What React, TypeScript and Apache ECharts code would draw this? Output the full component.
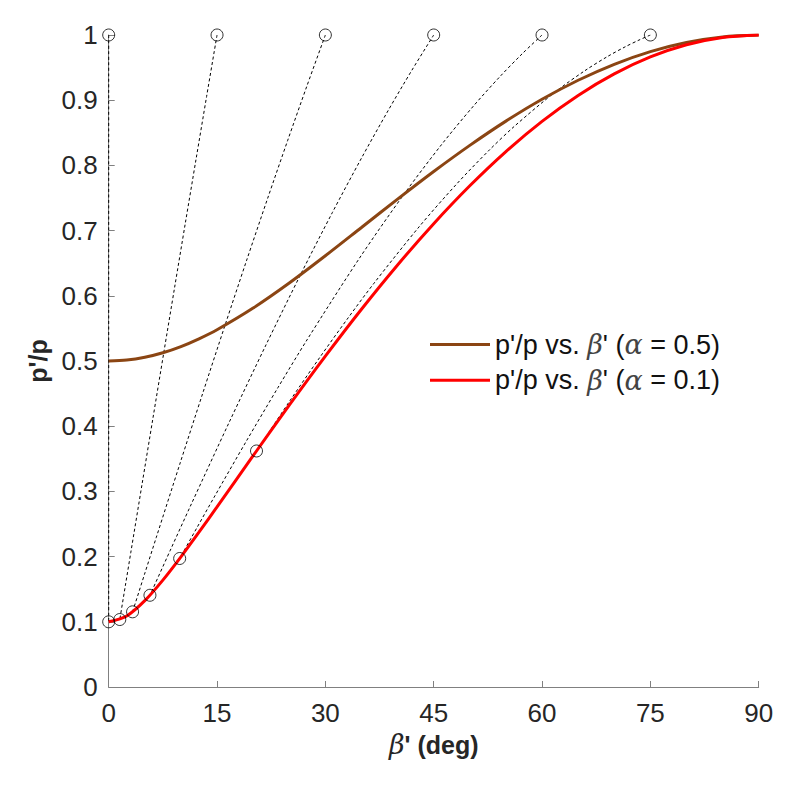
import React, { useEffect, useRef } from "react";
import * as echarts from "echarts";

// beta' (deg) sample points for the two curves
const betaDeg = [0, 2.5, 5, 7.5, 10, 12.5, 15, 20, 25, 30, 35, 40, 45, 50, 55, 60, 65, 70, 75, 80, 85, 90];
// p'/p for alpha = 0.5
const ratioAlpha05 = [0.5, 0.5014, 0.5057, 0.5126, 0.5221, 0.534, 0.5479, 0.5812, 0.6196, 0.6614, 0.7048, 0.7483, 0.7906, 0.8307, 0.8679, 0.9014, 0.9306, 0.9551, 0.9746, 0.9886, 0.9971, 1];
// p'/p for alpha = 0.1
const ratioAlpha01 = [0.1, 0.109, 0.1324, 0.1639, 0.1996, 0.2374, 0.2763, 0.3547, 0.4322, 0.5074, 0.5794, 0.6473, 0.7106, 0.7687, 0.8212, 0.8675, 0.9073, 0.9403, 0.9663, 0.985, 0.9962, 1];

// dashed trajectories [beta', p'/p], from the top circle down to the red curve
const path0 = [[0, 1], [0, 0.1]];
const path15 = [[15, 1], [13.558, 0.9058], [12.099, 0.8098], [10.623, 0.7123], [9.133, 0.6133], [7.631, 0.5131], [6.118, 0.4118], [4.596, 0.3096], [3.068, 0.2068], [2.302, 0.1552], [1.535, 0.1035]];
const path30 = [[30, 1], [27.457, 0.9222], [24.791, 0.8386], [22.006, 0.7494], [19.107, 0.6547], [16.102, 0.5547], [13.004, 0.45], [9.827, 0.3413], [6.587, 0.2294], [4.95, 0.1726], [3.304, 0.1153]];
const path45 = [[45, 1], [41.987, 0.9461], [38.66, 0.8835], [34.992, 0.811], [30.964, 0.7276], [26.565, 0.6325], [21.801, 0.5252], [16.699, 0.4064], [11.31, 0.2774], [8.531, 0.2098], [5.711, 0.1407]];
const path60 = [[60, 1], [57.318, 0.9719], [54.181, 0.9363], [50.484, 0.8908], [46.101, 0.8321], [40.893, 0.7559], [34.714, 0.6576], [27.457, 0.5324], [23.413, 0.4588], [19.107, 0.378], [14.564, 0.2904], [12.216, 0.2443], [9.827, 0.1971]];
const path75 = [[75, 1], [73.421, 0.9922], [71.482, 0.9817], [69.054, 0.9669], [65.935, 0.9453], [61.813, 0.9125], [56.183, 0.8601], [52.563, 0.822], [48.231, 0.7721], [43.015, 0.7063], [36.737, 0.6193], [33.149, 0.5661], [29.241, 0.5057], [25.009, 0.4377], [20.466, 0.362]];

// circle markers
const topCircles = [[0, 1], [15, 1], [30, 1], [45, 1], [60, 1], [75, 1]];
const bottomCircles = [[0, 0.1], [1.535, 0.1035], [3.304, 0.1153], [5.711, 0.1407], [9.827, 0.1971], [20.466, 0.362]];

const xTicks = [0, 15, 30, 45, 60, 75, 90];
const yTicks = [0, 0.1, 0.2, 0.3, 0.4, 0.5, 0.6, 0.7, 0.8, 0.9, 1];

const legendNames = ["p'/p vs. β' (α = 0.5)", "p'/p vs. β' (α = 0.1)"];

const FONT = "Liberation Sans, Arial, Helvetica, sans-serif";
const GREEK = "DejaVu Serif, serif";

export default function App() {
  const ref = useRef<HTMLDivElement>(null);
  useEffect(() => {
    if (!ref.current) return;
    const chart = echarts.init(ref.current, undefined, { renderer: "svg" });
    const dashed = (data: number[][], id: string) => ({
      id,
      type: "line",
      data,
      smooth: 0.3,
      showSymbol: false,
      silent: true,
      z: 2,
      lineStyle: { color: "#000", width: 1, type: [3, 2.5] },
    });
    chart.setOption({
      animation: false,
      backgroundColor: "#fff",
      textStyle: { fontFamily: FONT },
      grid: { left: 100.7, right: 33.3, top: 27, bottom: 97, containLabel: false },
      legend: {
        left: 417,
        top: 318,
        orient: "vertical",
        itemWidth: 60,
        itemHeight: 3,
        itemGap: 8.7,
        icon: "rect",
        data: legendNames,
        formatter: (name: string) =>
          name.indexOf("0.5") >= 0
            ? "p'/p vs. {i|β}' ({i|α} = 0.5)"
            : "p'/p vs. {i|β}' ({i|α} = 0.1)",
        textStyle: {
          fontSize: 27,
          lineHeight: 26,
          color: "#111",
          fontFamily: FONT,
          rich: {
            i: { fontSize: 27, lineHeight: 26, fontStyle: "italic", fontFamily: GREEK, color: "#444" },
          },
        },
      },
      xAxis: {
        type: "value",
        min: 0,
        max: 90,
        interval: 15,
        name: "{i|β}' (deg)",
        nameLocation: "middle",
        nameGap: 44,
        nameTextStyle: {
          fontSize: 25,
          fontWeight: "bold",
          color: "#262626",
          fontFamily: FONT,
          rich: { i: { fontSize: 27, fontStyle: "italic", fontFamily: GREEK, fontWeight: "normal", color: "#262626" } },
        },
        axisLine: { show: true, lineStyle: { color: "#808080", width: 1 } },
        axisTick: { show: true, inside: true, length: 6, lineStyle: { color: "#808080" } },
        axisLabel: { fontSize: 26, color: "#262626", margin: 13, fontFamily: FONT, formatter: (v: number) => (xTicks.includes(v) ? String(v) : "") },
        splitLine: { show: false },
      },
      yAxis: {
        type: "value",
        min: 0,
        max: 1,
        interval: 0.1,
        name: "p'/p",
        nameLocation: "middle",
        nameGap: 58,
        nameRotate: 90,
        nameTextStyle: { fontSize: 25, fontWeight: "bold", color: "#262626", fontFamily: FONT },
        axisLine: { show: true, lineStyle: { color: "#808080", width: 1 } },
        axisTick: { show: true, inside: true, length: 6, lineStyle: { color: "#808080" } },
        axisLabel: {
          fontSize: 26,
          color: "#262626",
          margin: 11,
          fontFamily: FONT,
          formatter: (v: number) => {
            const t = yTicks.find((y) => Math.abs(y - v) < 1e-9);
            return t === undefined ? "" : String(Math.round(t * 10) / 10);
          },
        },
        splitLine: { show: false },
      },
      series: [
        dashed(path0, "d0"),
        dashed(path15, "d15"),
        dashed(path30, "d30"),
        dashed(path45, "d45"),
        dashed(path60, "d60"),
        dashed(path75, "d75"),
        {
          name: legendNames[0],
          type: "line",
          data: betaDeg.map((b, i) => [b, ratioAlpha05[i]]),
          smooth: 0.3,
          showSymbol: false,
          z: 3,
          itemStyle: { color: "#8B4513" },
          lineStyle: { color: "#8B4513", width: 3 },
        },
        {
          name: legendNames[1],
          type: "line",
          data: betaDeg.map((b, i) => [b, ratioAlpha01[i]]),
          smooth: 0.3,
          showSymbol: false,
          z: 3,
          itemStyle: { color: "#ff0000" },
          lineStyle: { color: "#ff0000", width: 3 },
        },
        {
          type: "scatter",
          data: topCircles.concat(bottomCircles),
          symbol: "circle",
          symbolSize: 12,
          z: 5,
          silent: true,
          itemStyle: { color: "rgba(0,0,0,0)", borderColor: "#000", borderWidth: 1 },
        },
      ],
    });
    return () => chart.dispose();
  }, []);
  return <div ref={ref} style={{ width: 784, height: 776 }} />;
}
